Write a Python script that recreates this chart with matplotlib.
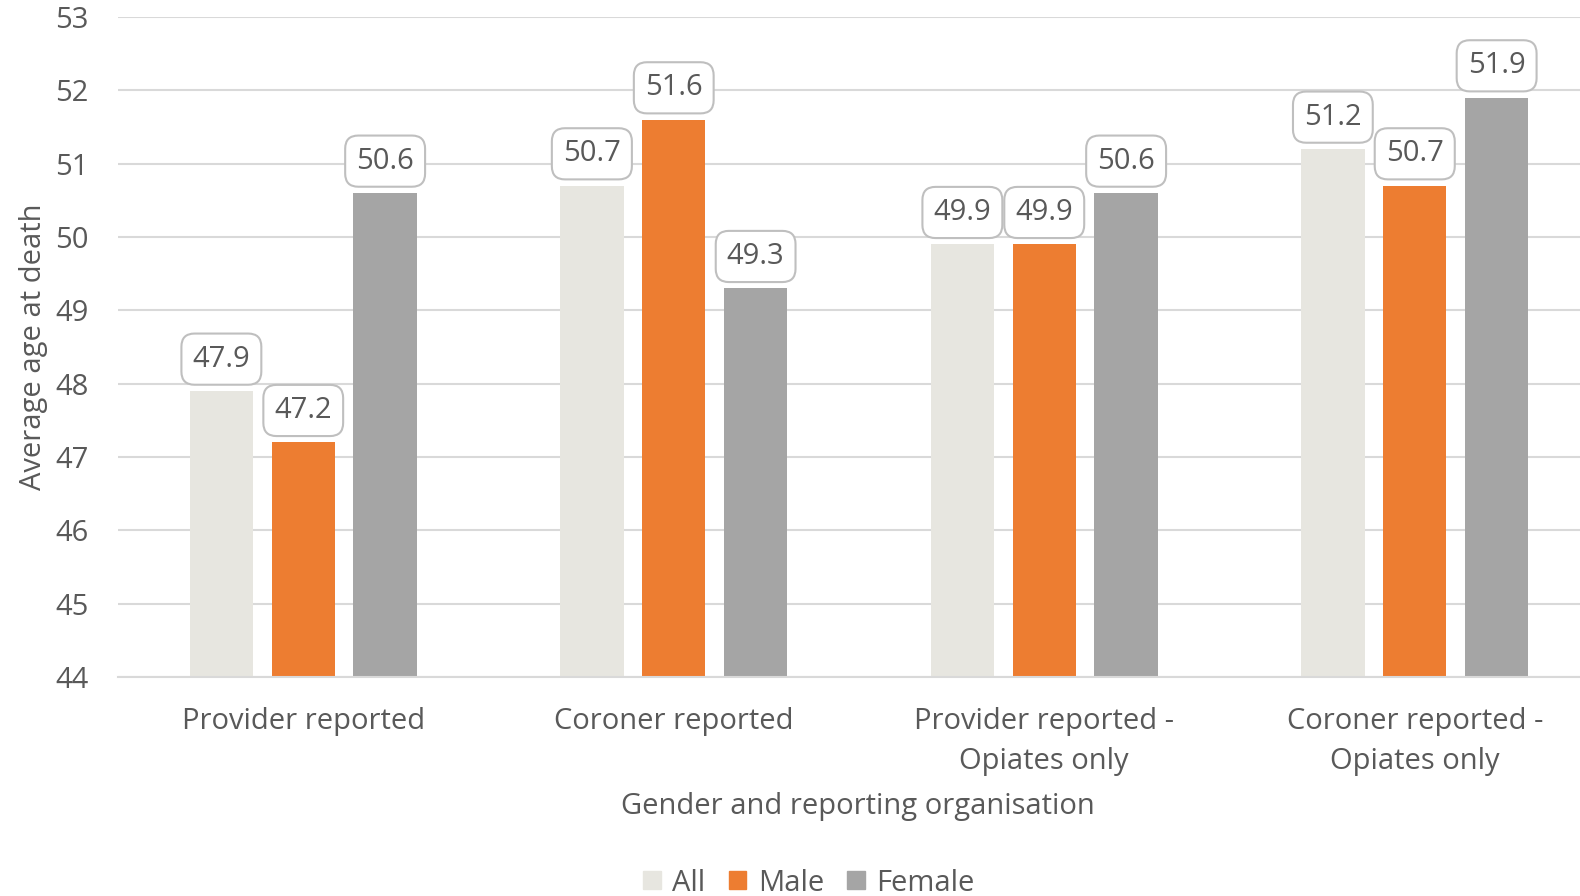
import numpy as np
import matplotlib.pyplot as plt
from matplotlib.patches import Patch

categories = ["Provider reported", "Coroner reported",
              "Provider reported -\nOpiates only", "Coroner reported -\nOpiates only"]
series_names = ["All", "Male", "Female"]
all_vals = [47.9, 50.7, 49.9, 51.2]
male_vals = [47.2, 51.6, 49.9, 50.7]
female_vals = [50.6, 49.3, 50.6, 51.9]

COLORS = ["#E7E6E0", "#ED7D31", "#A5A5A5"]
TEXT = "#595959"
FS = 21

plt.rcParams["font.family"] = ["Open Sans", "DejaVu Sans"]

fig = plt.figure(figsize=(15.8, 8.96), dpi=100)
ax = fig.add_axes([118 / 1580, 1 - 677 / 896, 1482 / 1580, (677 - 17) / 896])

x = np.arange(len(categories))
width = 0.171
step = 0.221
for i, (vals, col) in enumerate(zip([all_vals, male_vals, female_vals], COLORS)):
    pos = x + (i - 1) * step
    ax.bar(pos, np.array(vals) - 44, bottom=44, width=width, color=col, zorder=2)
    for px, v in zip(pos, vals):
        ax.annotate(f"{v:.1f}", (px, v), xytext=(0, 12.5), textcoords="offset points",
                    ha="center", va="bottom", fontsize=FS, color=TEXT, zorder=3,
                    bbox=dict(boxstyle="round,pad=0.38,rounding_size=0.45",
                              fc="white", ec="#BFBFBF", lw=1.5))

ax.set_xlim(-0.5, len(categories) - 0.5)
ax.set_ylim(44, 53)
ax.set_yticks(range(44, 54))
ax.yaxis.grid(True, color="#D9D9D9", lw=1.5, zorder=0)
ax.set_axisbelow(True)
for s in ["top", "right", "left"]:
    ax.spines[s].set_visible(False)
ax.spines["bottom"].set_color("#D9D9D9")
ax.spines["bottom"].set_linewidth(1.5)
ax.tick_params(axis="both", length=0, labelsize=FS, colors=TEXT)
ax.tick_params(axis="y", pad=21)
ax.tick_params(axis="x", pad=21.5)
ax.set_xticks(x)
ax.set_xticklabels(categories, linespacing=1.5)

ax.set_ylabel("Average age at death", fontsize=FS, color=TEXT)
ax.yaxis.set_label_coords(-70 / 1482, 0.5)
fig.text(858 / 1580, 1 - 806 / 896, "Gender and reporting organisation",
         ha="center", va="center", fontsize=FS, color=TEXT)

handles = [Patch(color=c) for c in COLORS]
fig.legend(handles, series_names, loc="center", bbox_to_anchor=(809 / 1580, 1 - 883 / 896),
           ncol=3, frameon=False, fontsize=FS, labelcolor=TEXT,
           handlelength=0.6, handleheight=0.6, handletextpad=0.4, columnspacing=0.8)

fig.savefig("out.png", dpi=100)
